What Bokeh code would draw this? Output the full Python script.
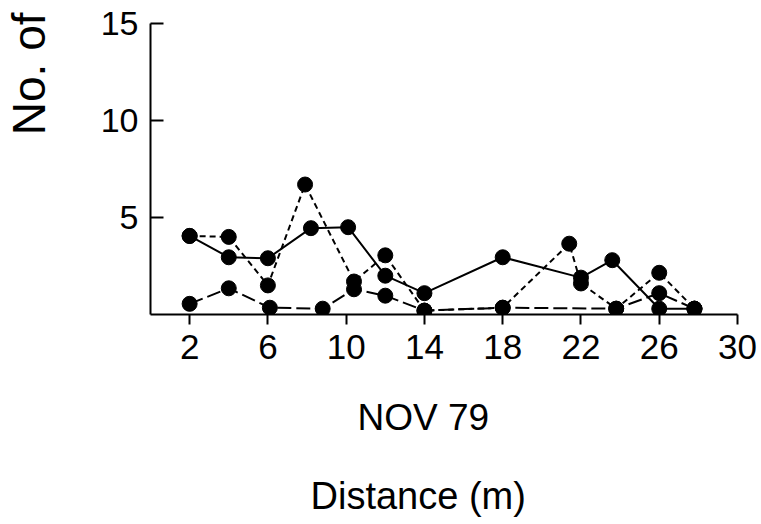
from bokeh.plotting import figure
from bokeh.models import Range1d, FixedTicker, Title, LinearAxis
from bokeh.embed import file_html
from bokeh.resources import INLINE

# Distance (m) and counts
solid_x = [2, 4, 6, 8.2, 10.1, 12, 14, 18, 22, 23.6, 26, 27.8]
solid_y = [4.05, 2.95, 2.9, 4.45, 4.5, 2.0, 1.1, 2.95, 1.9, 2.8, 0.3, 0.3]

short_x = [2, 4, 6, 7.9, 10.4, 12, 14, 18, 21.4, 22, 23.8, 26, 27.8]
short_y = [4.05, 4.0, 1.5, 6.7, 1.7, 3.05, 0.2, 0.35, 3.65, 1.6, 0.3, 2.15, 0.3]

long_x = [2, 4, 6.1, 8.8, 10.4, 12, 14, 18, 23.8, 26, 27.8]
long_y = [0.55, 1.35, 0.35, 0.3, 1.3, 0.97, 0.2, 0.35, 0.3, 1.1, 0.3]

x_ticks = [2, 6, 10, 14, 18, 22, 26, 30]
y_ticks = [5, 10, 15]

FONT = "Liberation Sans"

p = figure(width=761, height=524, output_backend="svg", toolbar_location=None,
           x_range=Range1d(0, 30), y_range=Range1d(0, 15),
           min_border_left=150, min_border_right=24, min_border_top=23,
           min_border_bottom=210)
p.outline_line_color = None
p.grid.visible = False
p.background_fill_color = "white"
p.border_fill_color = "white"

for xs, ys, dash in [(solid_x, solid_y, "solid"), (short_x, short_y, "6 4"),
                     (long_x, long_y, "14 5")]:
    p.line(xs, ys, line_color="black", line_width=2, line_dash=dash)
    p.scatter(xs, ys, size=15, fill_color="black", line_color="black")

xa = p.xaxis[0]
xa.ticker = FixedTicker(ticks=x_ticks)
xa.major_tick_in = 0
xa.major_tick_out = 10
xa.minor_tick_line_color = None
xa.axis_line_width = 2
xa.major_tick_line_width = 2
xa.major_label_text_font = FONT
xa.major_label_text_font_size = "35px"
xa.major_label_text_color = "black"
xa.major_label_standoff = 10

ya = p.yaxis[0]
ya.ticker = FixedTicker(ticks=y_ticks)
ya.major_tick_in = 13
ya.major_tick_out = 0
ya.minor_tick_line_color = None
ya.axis_line_width = 2
ya.major_tick_line_width = 2
ya.major_label_text_font = FONT
ya.major_label_text_font_size = "34px"
ya.major_label_text_color = "black"
ya.major_label_standoff = 12

# blank spacer between the tick labels and the rotated y title
spacer = LinearAxis(ticker=FixedTicker(ticks=[0]), axis_line_color=None,
                    major_tick_in=0, major_tick_out=43,
                    major_tick_line_color="white", minor_tick_line_color=None,
                    major_label_overrides={0: ""}, major_label_standoff=0)
p.add_layout(spacer, "left")

p.add_layout(Title(text="No. of", align="right", offset=-11, vertical_align="bottom",
                   standoff=0, text_font=FONT, text_font_size="46px",
                   text_font_style="normal", text_color="black"), "left")

p.add_layout(Title(text="NOV 79", align="left", offset=207, vertical_align="top",
                   standoff=70, text_font=FONT, text_font_size="37px",
                   text_font_style="normal", text_color="black"), "below")
p.add_layout(Title(text="Distance (m)", align="left", offset=160, vertical_align="top",
                   standoff=0, text_font=FONT, text_font_size="38px",
                   text_font_style="normal", text_color="black"), "below")

open("out.html", "w").write(file_html(p, INLINE))
